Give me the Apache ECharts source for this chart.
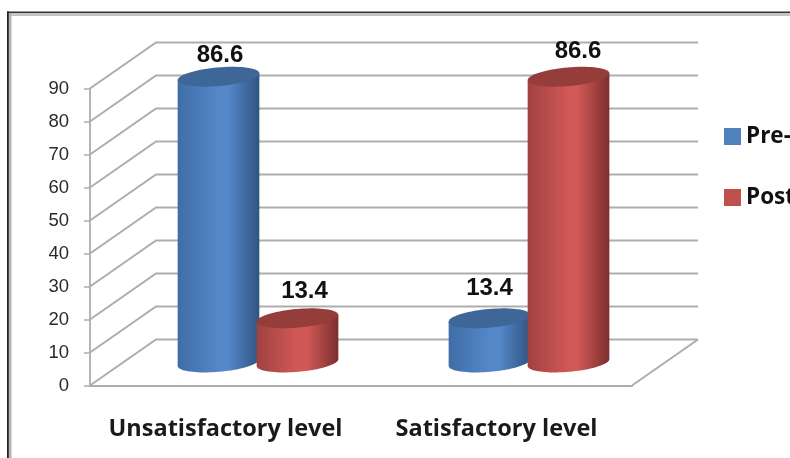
<!DOCTYPE html>
<html>
<head>
<meta charset="utf-8">
<style>html,body{margin:0;padding:0;background:#fff}#chart{width:790px;height:458px}</style>
<script src="https://cdn.jsdelivr.net/npm/echarts@6/dist/echarts.min.js"></script>
</head>
<body>
<div id="chart"></div>
<script>
// Chart content
const categories = ['Unsatisfactory level', 'Satisfactory level'];
const seriesNames = ['Pre-test', 'Post-test'];
const preValues = [86.6, 13.4];
const postValues = [13.4, 86.6];
const valueTicks = [0, 10, 20, 30, 40, 50, 60, 70, 80, 90];

// Oblique projection of the chart floor: how far the back wall sits from the front plane
const DEPTH_X = 66;
const DEPTH_Y = -46;
const GRID_COLOR = '#adadad';

// Cylinder shape: half width, half depth and tilt of the elliptical caps
const CAP_A = 41;
const CAP_B = 9.3;
const CAP_TILT = 5 * Math.PI / 180;

const palettes = {
  pre: { left: '#3f6da6', mid: '#5587c9', right: '#2f5580', cap: '#3e6696', swatch: '#4f81bd' },
  post: { left: '#a04240', mid: '#d05856', right: '#7b2f2e', cap: '#943d3b', swatch: '#c0504d' }
};

// Point on a tilted cap ellipse around (cx, cy)
function capPoint(cx, cy, t) {
  const x = CAP_A * Math.cos(t), y = CAP_B * Math.sin(t);
  return [
    cx + x * Math.cos(CAP_TILT) + y * Math.sin(CAP_TILT),
    cy - x * Math.sin(CAP_TILT) + y * Math.cos(CAP_TILT)
  ];
}

function capOutline(cx, cy, from, to, steps) {
  const pts = [];
  for (let i = 0; i <= steps; i++) pts.push(capPoint(cx, cy, from + (to - from) * i / steps));
  return pts;
}

// One cylinder standing mid-way in the floor depth, with its value label above
function cylinderRenderer(palette, barShift, labelShifts) {
  return function (params, api) {
    const idx = api.value(0), val = api.value(1);
    const top = api.coord([idx, val]);
    const base = api.coord([idx, 0]);
    const cx = top[0] + DEPTH_X / 2 + barShift;
    const topY = top[1] + DEPTH_Y / 2;
    const baseY = base[1] + DEPTH_Y / 2;
    const body = capOutline(cx, baseY, 0, Math.PI, 40);
    body.push(capPoint(cx, topY, Math.PI), capPoint(cx, topY, 0));
    const shift = labelShifts[idx];
    return {
      type: 'group',
      children: [
        {
          type: 'polygon',
          shape: { points: body },
          style: {
            fill: new echarts.graphic.LinearGradient(0, 0, 1, 0, [
              { offset: 0, color: palette.left },
              { offset: 0.5, color: palette.mid },
              { offset: 0.62, color: palette.mid },
              { offset: 1, color: palette.right }
            ])
          }
        },
        {
          type: 'polygon',
          shape: { points: capOutline(cx, topY, 0, Math.PI * 2, 72) },
          style: { fill: palette.cap }
        },
        {
          type: 'text',
          x: cx + shift[0],
          y: topY + shift[1],
          style: {
            text: String(val),
            fill: '#111',
            font: 'bold 24px "Liberation Sans", Arial, sans-serif',
            align: 'center',
            verticalAlign: 'middle'
          }
        }
      ]
    };
  };
}

// Gridline for one tick: slanted side-wall stroke, then the back-wall stroke
function wallRenderer(params, api) {
  const val = api.value(0);
  const band = api.size([1, 0])[0];
  const first = api.coord([0, val]);
  const last = api.coord([categories.length - 1, val]);
  const x0 = first[0] - band / 2, x1 = last[0] + band / 2, y = first[1];
  const lineStyle = { stroke: GRID_COLOR, lineWidth: 2, fill: null };
  const children = [{
    type: 'polyline',
    shape: { points: [[x0, y], [x0 + DEPTH_X, y + DEPTH_Y], [x1 + DEPTH_X, y + DEPTH_Y]] },
    style: lineStyle
  }];
  if (val === 0) {
    children.push({
      type: 'line',
      shape: { x1: x1, y1: y, x2: x1 + DEPTH_X, y2: y + DEPTH_Y },
      style: lineStyle
    });
  }
  return { type: 'group', children: children };
}

const chart = echarts.init(document.getElementById('chart'), null, { renderer: 'canvas' });

chart.setOption({
  animation: false,
  backgroundColor: '#fff',
  grid: { left: 90, right: 158, top: 88.5, bottom: 72.5 },
  xAxis: {
    type: 'category',
    data: categories,
    axisLine: { lineStyle: { color: GRID_COLOR, width: 2 } },
    axisTick: { length: 8, alignWithLabel: false, lineStyle: { color: GRID_COLOR, width: 1.5 } },
    axisLabel: {
      interval: 0,
      hideOverlap: false,
      margin: 32,
      fontFamily: '"Open Sans"',
      fontWeight: 'bold',
      fontSize: 23.5,
      color: '#1a1a1a'
    }
  },
  yAxis: {
    type: 'value',
    min: 0,
    max: 90,
    interval: 10,
    splitLine: { show: false },
    axisLine: { show: true, lineStyle: { color: GRID_COLOR, width: 1.8 } },
    axisTick: { show: true, length: 6, lineStyle: { color: GRID_COLOR, width: 1.5 } },
    axisLabel: {
      margin: 21,
      fontFamily: '"Liberation Sans"',
      fontSize: 18.5,
      color: '#2a2a2a'
    }
  },
  legend: {
    orient: 'vertical',
    left: 724,
    top: 125,
    padding: 0,
    itemWidth: 17,
    itemHeight: 17,
    itemGap: 38,
    icon: 'rect',
    selectedMode: false,
    data: seriesNames,
    textStyle: {
      fontFamily: '"Open Sans"',
      fontWeight: 'bold',
      fontSize: 22.5,
      color: '#111'
    }
  },
  series: [
    {
      type: 'custom',
      silent: true,
      coordinateSystem: 'cartesian2d',
      renderItem: wallRenderer,
      encode: { y: 0 },
      data: valueTicks.map(v => [v]),
      z: 1
    },
    {
      name: seriesNames[0],
      type: 'custom',
      coordinateSystem: 'cartesian2d',
      itemStyle: { color: palettes.pre.swatch },
      renderItem: cylinderRenderer(palettes.pre, -40, [[1.5, -21], [0, -30]]),
      encode: { x: 0, y: 1 },
      data: preValues.map((v, i) => [i, v]),
      z: 2
    },
    {
      name: seriesNames[1],
      type: 'custom',
      coordinateSystem: 'cartesian2d',
      itemStyle: { color: palettes.post.swatch },
      renderItem: cylinderRenderer(palettes.post, 39, [[7, -27], [9.5, -25.5]]),
      encode: { x: 0, y: 1 },
      data: postValues.map((v, i) => [i, v]),
      z: 3
    }
  ],
  // Double-ruled frame around the figure, open on the right and bottom
  graphic: [
    { type: 'rect', z: 10, shape: { x: 8.5, y: 13, width: 782, height: 3 }, style: { fill: '#c4c4c4' } },
    { type: 'rect', z: 10, shape: { x: 8.5, y: 13, width: 3, height: 445 }, style: { fill: '#b4b4b4' } },
    { type: 'rect', z: 11, shape: { x: 7, y: 11.5, width: 783, height: 1.5 }, style: { fill: '#333' } },
    { type: 'rect', z: 11, shape: { x: 7, y: 11.5, width: 1.8, height: 447 }, style: { fill: '#222' } }
  ]
});
</script>
</body>
</html>
